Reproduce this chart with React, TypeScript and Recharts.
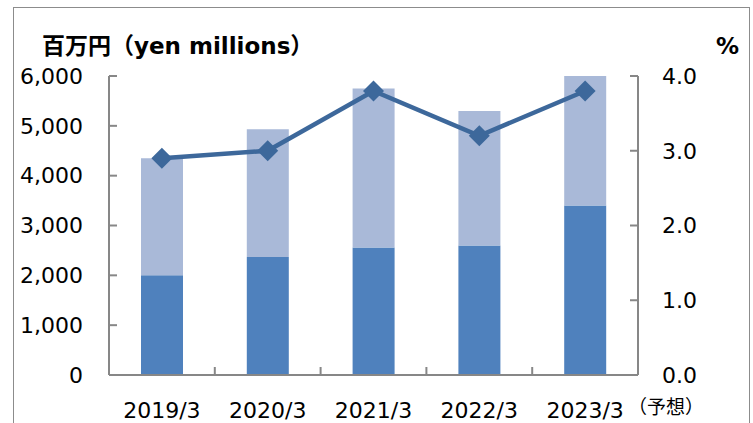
import {
  ComposedChart,
  Bar,
  Line,
  XAxis,
  YAxis,
} from 'recharts';

const categories = ['2019/3', '2020/3', '2021/3', '2022/3', '2023/3'];
const notes = ['', '', '', '', '（予想）'];
const baseValues = [2000, 2370, 2560, 2600, 3400];
const upperValues = [2350, 2560, 3190, 2700, 2600];
const ratioValues = [2.9, 3.0, 3.8, 3.2, 3.8];
const leftTicks = [0, 1000, 2000, 3000, 4000, 5000, 6000];
const rightTicks = [0, 1, 2, 3, 4];

const DARK = '#4f81bd';
const LIGHT = '#a9b9d8';
const LINE = '#3d689b';
const AXIS = '#878787';
const FONT = '"DejaVu Sans", "Noto Sans CJK JP", sans-serif';

// category centres sit on .5, boundaries between categories on whole numbers
const data = categories.map((c, i) => ({
  name: c,
  pos: i + 0.5,
  base: baseValues[i],
  upper: upperValues[i],
  ratio: ratioValues[i],
}));
const xTicks: number[] = [];
categories.forEach((_, i) => {
  if (i > 0) xTicks.push(i);
  xTicks.push(i + 0.5);
});

const Diamond = (props: any) => {
  const { cx, cy } = props;
  if (cx == null || cy == null) return null;
  const r = 10.5;
  return (
    <polygon
      points={`${cx},${cy - r} ${cx + r},${cy} ${cx},${cy + r} ${cx - r},${cy}`}
      fill={LINE}
    />
  );
};

const CategoryTick = (props: any) => {
  const { x, y, payload } = props;
  const v = payload.value as number;
  if (Number.isInteger(v)) {
    return <line x1={x} x2={x} y1={y} y2={y - 8} stroke={AXIS} strokeWidth={2} />;
  }
  const i = Math.floor(v);
  return (
    <g>
      <text x={x} y={y + 43} textAnchor="middle" fontSize={22} fill="#000" fontFamily={FONT}>
        {categories[i]}
      </text>
      {notes[i] ? (
        <text x={x + 43} y={y + 39} textAnchor="start" fontSize={19} fill="#000" fontFamily={FONT}>
          {notes[i]}
        </text>
      ) : null}
    </g>
  );
};

export default function App() {
  const tickStyle = { fontSize: 22, fill: '#000', fontFamily: FONT };
  return (
    <div style={{ position: 'fixed', left: 0, top: 0, width: 753, height: 423, background: '#fff', overflow: 'hidden' }}>
      <div
        style={{
          position: 'absolute',
          left: 13,
          top: 7,
          width: 737,
          height: 440,
          border: '1.5px solid #8c8c8c',
          boxSizing: 'border-box',
        }}
      />
      <div
        style={{
          position: 'absolute',
          left: 42,
          top: 35,
          lineHeight: '23px',
          fontSize: 23,
          fontWeight: 'bold',
          fontFamily: FONT,
          whiteSpace: 'nowrap',
        }}
      >
        百万円（yen millions）
      </div>
      <div
        style={{
          position: 'absolute',
          left: 716,
          top: 35,
          lineHeight: '23px',
          fontSize: 23,
          fontWeight: 'bold',
          fontFamily: FONT,
        }}
      >
        %
      </div>
      <ComposedChart
        width={753}
        height={423}
        data={data}
        margin={{ top: 76, right: 0, bottom: 0, left: 0 }}
        style={{ position: 'absolute', left: 0, top: 0 }}
      >
        <XAxis
          type="number"
          dataKey="pos"
          domain={[0, categories.length]}
          allowDataOverflow
          ticks={xTicks}
          interval={0}
          height={48}
          axisLine={{ stroke: AXIS, strokeWidth: 2 }}
          tickLine={false}
          tickSize={0}
          tickMargin={0}
          tick={<CategoryTick />}
        />
        <YAxis
          yAxisId="left"
          width={109}
          domain={[0, 6000]}
          ticks={leftTicks}
          allowDataOverflow
          axisLine={{ stroke: AXIS, strokeWidth: 2 }}
          tickLine={{ stroke: AXIS, strokeWidth: 2 }}
          tickSize={-8}
          tickMargin={34}
          tick={tickStyle}
          tickFormatter={(v: number) => v.toLocaleString('en-US')}
        />
        <YAxis
          yAxisId="right"
          orientation="right"
          width={115}
          domain={[0, 4]}
          ticks={rightTicks}
          axisLine={{ stroke: AXIS, strokeWidth: 2 }}
          tickLine={{ stroke: AXIS, strokeWidth: 2 }}
          tickSize={-8}
          tickMargin={32}
          tick={tickStyle}
          tickFormatter={(v: number) => v.toFixed(1)}
        />
        <Bar
          yAxisId="left"
          dataKey="base"
          stackId="s"
          fill={DARK}
          barSize={42}
          isAnimationActive={false}
        />
        <Bar
          yAxisId="left"
          dataKey="upper"
          stackId="s"
          fill={LIGHT}
          barSize={42}
          isAnimationActive={false}
        />
        <Line
          yAxisId="right"
          dataKey="ratio"
          stroke={LINE}
          strokeWidth={4.5}
          dot={<Diamond />}
          activeDot={false}
          isAnimationActive={false}
        />
      </ComposedChart>
    </div>
  );
}
